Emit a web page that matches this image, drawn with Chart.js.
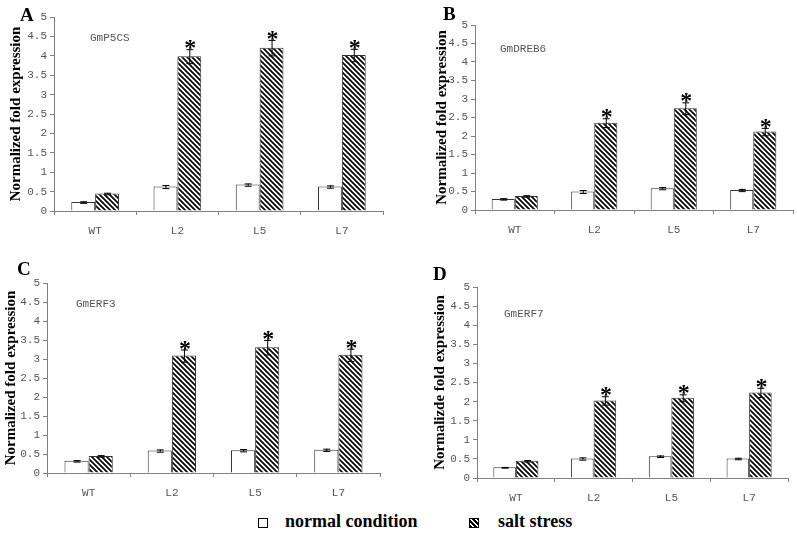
<!DOCTYPE html>
<html>
<head>
<meta charset="utf-8">
<script src="https://cdn.jsdelivr.net/npm/chart.js@4.4.0/dist/chart.umd.min.js"></script>
<style>
  body { margin: 0; background: #fff; width: 797px; height: 534px; position: relative; overflow: hidden; }
  canvas { position: absolute; }
  .leg { position: absolute; font: bold 18px "Liberation Serif"; color: #000; line-height: 18px; white-space: nowrap; }
  .box { position: absolute; width: 8px; height: 8px; border: 1.5px solid #000; background: #fff; }
  .box.salt { background: repeating-linear-gradient(45deg, #000 0 2px, #fff 2px 3.5px); }
</style>
</head>
<body>
<canvas id="cA" width="397" height="240" style="left:0;top:0"></canvas>
<canvas id="cB" width="397" height="240" style="left:400px;top:0"></canvas>
<canvas id="cC" width="397" height="260" style="left:0;top:245px"></canvas>
<canvas id="cD" width="397" height="260" style="left:400px;top:245px"></canvas>

<div class="box" style="left:258px;top:518px"></div>
<div class="leg" style="left:285px;top:512px">normal condition</div>
<div class="box salt" style="left:469px;top:518px"></div>
<div class="leg" style="left:498px;top:512px">salt stress</div>

<script>
var categories = ["WT", "L2", "L5", "L7"];
var stars = [false, true, true, true];

// A - GmP5CS
var normalA = [0.23, 0.63, 0.68, 0.63];
var normalErrA = [0.02, 0.04, 0.03, 0.03];
var saltA = [0.45, 3.99, 4.21, 4.02];
var saltErrA = [0.02, 0.18, 0.2, 0.16];

// B - GmDREB6
var normalB = [0.3, 0.5, 0.59, 0.54];
var normalErrB = [0.02, 0.04, 0.03, 0.03];
var saltB = [0.38, 2.36, 2.75, 2.12];
var saltErrB = [0.02, 0.12, 0.16, 0.1];

// C - GmERF3
var normalC = [0.32, 0.59, 0.6, 0.61];
var normalErrC = [0.02, 0.03, 0.03, 0.03];
var saltC = [0.45, 3.09, 3.31, 3.11];
var saltErrC = [0.02, 0.16, 0.19, 0.16];

// D - GmERF7
var normalD = [0.28, 0.51, 0.57, 0.51];
var normalErrD = [0.01, 0.03, 0.02, 0.02];
var saltD = [0.45, 2.03, 2.1, 2.24];
var saltErrD = [0.02, 0.11, 0.09, 0.12];

function hatch() {
  var c = document.createElement("canvas");
  c.width = 5; c.height = 5;
  var g = c.getContext("2d");
  g.fillStyle = "#fff";
  g.fillRect(0, 0, 5, 5);
  g.strokeStyle = "#000";
  g.lineWidth = 1.7;
  for (var k = -5; k <= 5; k += 5) {
    g.beginPath();
    g.moveTo(-5, -5 + k);
    g.lineTo(10, 10 + k);
    g.stroke();
  }
  return g.createPattern(c, "repeat");
}

// error bars, stars, panel letter and gene name
var extras = {
  id: "extras",
  afterDatasetsDraw: function (chart, args, o) {
    var ctx = chart.ctx, y = chart.scales.y;
    ctx.save();
    chart.data.datasets.forEach(function (ds, i) {
      var meta = chart.getDatasetMeta(i);
      meta.data.forEach(function (bar, j) {
        var v = ds.data[j], e = ds.errors[j];
        var top = y.getPixelForValue(v + e), bot = y.getPixelForValue(v - e);
        ctx.strokeStyle = "#000";
        ctx.lineWidth = 1;
        ctx.beginPath();
        ctx.moveTo(bar.x + 0.5, top); ctx.lineTo(bar.x + 0.5, bot);
        ctx.moveTo(bar.x - 3, top + 0.5); ctx.lineTo(bar.x + 4, top + 0.5);
        ctx.moveTo(bar.x - 3, bot + 0.5); ctx.lineTo(bar.x + 4, bot + 0.5);
        ctx.stroke();
        if (ds.stars && ds.stars[j]) {
          ctx.fillStyle = "#000";
          ctx.font = "bold 24px 'Liberation Serif'";
          ctx.textAlign = "center";
          ctx.textBaseline = "alphabetic";
          ctx.fillText("*", bar.x + 1, top + 6);
        }
      });
    });
    ctx.fillStyle = "#000";
    ctx.textAlign = "left";
    ctx.textBaseline = "alphabetic";
    ctx.font = "bold 19px 'Liberation Serif'";
    ctx.fillText(o.letter, o.lx, o.ly);
    ctx.fillStyle = "#555";
    ctx.font = "11px 'Liberation Mono'";
    ctx.fillText(o.gene, o.gx, o.gy);
    ctx.restore();
  }
};

var pattern = hatch();

function makePanel(id, normal, normalErr, salt, saltErr, yTitle, lay) {
  var ctx = document.getElementById(id).getContext("2d");
  return new Chart(ctx, {
    type: "bar",
    data: {
      labels: categories,
      datasets: [
        {
          label: "normal condition",
          data: normal,
          errors: normalErr,
          backgroundColor: "#fff",
          borderColor: "#333",
          borderWidth: 1,
          categoryPercentage: 0.58,
          barPercentage: 1,
        },
        {
          label: "salt stress",
          data: salt,
          errors: saltErr,
          stars: stars,
          backgroundColor: pattern,
          borderColor: "#333",
          borderWidth: 1,
          categoryPercentage: 0.58,
          barPercentage: 1,
        },
      ],
    },
    options: {
      responsive: false,
      devicePixelRatio: 1,
      animation: false,
      layout: { padding: { left: lay.pl, top: lay.pt, right: lay.pr, bottom: 0 } },
      plugins: {
        legend: { display: false },
        tooltip: { enabled: false },
        extras: { letter: lay.letter, lx: lay.lx, ly: lay.ly, gene: lay.gene, gx: lay.gx, gy: lay.gy },
      },
      scales: {
        x: {
          afterFit: function (s) { s.height = lay.xh; },
          border: { color: "#808080", width: 1 },
          grid: { drawOnChartArea: false, tickLength: 4, color: "#808080" },
          ticks: { color: "#555", padding: 9, font: { family: "Liberation Mono", size: 11 } },
        },
        y: {
          min: 0,
          max: 5,
          afterFit: function (s) { s.width = lay.yw; },
          border: { color: "#808080", width: 1 },
          grid: { drawOnChartArea: false, tickLength: 4, color: "#808080" },
          ticks: {
            stepSize: 0.5,
            color: "#555",
            padding: 3,
            font: { family: "Liberation Mono", size: 11 },
            callback: function (v) { return String(Number(v.toFixed(1))); },
          },
          title: {
            display: true,
            text: yTitle,
            color: "#000",
            padding: 0,
            font: { family: "Liberation Serif", size: 15, weight: "bold" },
          },
        },
      },
    },
    plugins: [extras],
  });
}

makePanel("cA", normalA, normalErrA, saltA, saltErrA, "Normalized fold expression",
  { pl: 7, pt: 17, pr: 14, yw: 47, xh: 29, letter: "A", lx: 20, ly: 21, gene: "GmP5CS", gx: 90, gy: 41 });
makePanel("cB", normalB, normalErrB, saltB, saltErrB, "Normalized fold expression",
  { pl: 33, pt: 25, pr: 4, yw: 42, xh: 30, letter: "B", lx: 43, ly: 20, gene: "GmDREB6", gx: 100, gy: 52 });
makePanel("cC", normalC, normalErrC, saltC, saltErrC, "Normalized fold expression",
  { pl: 2, pt: 38, pr: 17, yw: 45, xh: 32, letter: "C", lx: 17, ly: 30, gene: "GmERF3", gx: 76, gy: 62 });
makePanel("cD", normalD, normalErrD, saltD, saltErrD, "Normalizde fold expression",
  { pl: 31, pt: 42, pr: 9, yw: 46, xh: 27, letter: "D", lx: 33, ly: 35, gene: "GmERF7", gx: 104, gy: 72 });
</script>
</body>
</html>
